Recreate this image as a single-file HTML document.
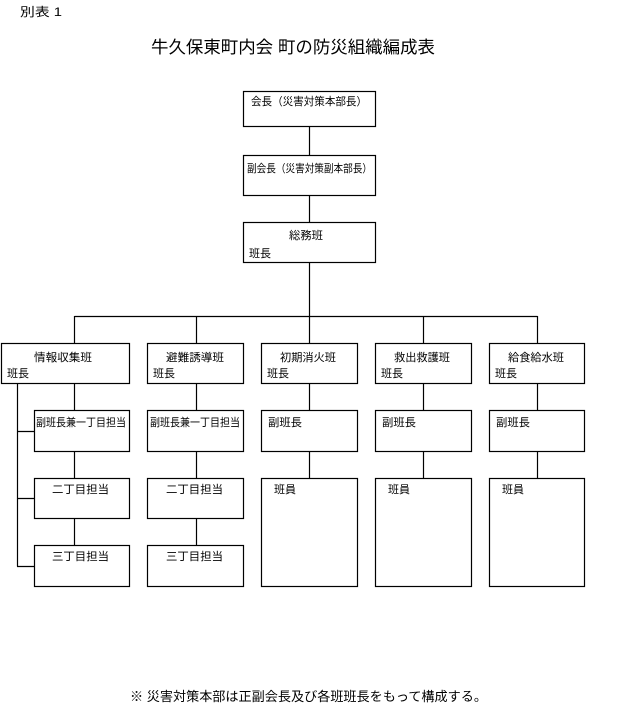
<!DOCTYPE html>
<html><head><meta charset="utf-8"><style>
body{margin:0;background:#fff}
svg text{font-family:"Liberation Sans","Noto Sans CJK JP",sans-serif;fill:#000}
</style></head><body>
<svg width="626" height="713" viewBox="0 0 626 713" xmlns="http://www.w3.org/2000/svg">
<g font-size="12">
<text x="20" y="16" textLength="42" lengthAdjust="spacingAndGlyphs">別表 1</text>
</g>
<text x="151" y="53" font-size="17" textLength="284" lengthAdjust="spacingAndGlyphs">牛久保東町内会 町の防災組織編成表</text>
<g fill="none" stroke="#000" stroke-width="1.2">
<rect x="243.5" y="91.5" width="132" height="35"/>
<rect x="243.5" y="155.5" width="132" height="40"/>
<rect x="243.5" y="222.5" width="132" height="40"/>
<line x1="309.5" y1="126" x2="309.5" y2="155"/>
<line x1="309.5" y1="196" x2="309.5" y2="222"/>
<line x1="309.5" y1="263" x2="309.5" y2="343"/>
<line x1="74.5" y1="316.5" x2="537.5" y2="316.5"/>
<line x1="74.5" y1="316" x2="74.5" y2="343"/>
<line x1="196.5" y1="316" x2="196.5" y2="343"/>
<line x1="423.5" y1="316" x2="423.5" y2="343"/>
<line x1="537.5" y1="316" x2="537.5" y2="343"/>
<!-- row boxes -->
<rect x="1.5" y="343.5" width="128" height="40"/>
<rect x="147.5" y="343.5" width="96" height="40"/>
<rect x="261.5" y="343.5" width="96" height="40"/>
<rect x="375.5" y="343.5" width="96" height="40"/>
<rect x="489.5" y="343.5" width="95" height="40"/>
<!-- sub boxes -->
<rect x="34.5" y="410.5" width="95" height="41"/>
<rect x="34.5" y="478.5" width="95" height="40"/>
<rect x="34.5" y="545.5" width="95" height="41"/>
<rect x="147.5" y="410.5" width="96" height="41"/>
<rect x="147.5" y="478.5" width="96" height="40"/>
<rect x="147.5" y="545.5" width="96" height="41"/>
<rect x="261.5" y="410.5" width="96" height="41"/>
<rect x="261.5" y="478.5" width="96" height="108"/>
<rect x="375.5" y="410.5" width="96" height="41"/>
<rect x="375.5" y="478.5" width="96" height="108"/>
<rect x="489.5" y="410.5" width="95" height="41"/>
<rect x="489.5" y="478.5" width="95" height="108"/>
<!-- vertical connectors -->
<line x1="74.5" y1="384" x2="74.5" y2="410"/>
<line x1="74.5" y1="452" x2="74.5" y2="478"/>
<line x1="74.5" y1="519" x2="74.5" y2="545"/>
<line x1="196.5" y1="384" x2="196.5" y2="410"/>
<line x1="196.5" y1="452" x2="196.5" y2="478"/>
<line x1="196.5" y1="519" x2="196.5" y2="545"/>
<line x1="309.5" y1="384" x2="309.5" y2="410"/>
<line x1="309.5" y1="452" x2="309.5" y2="478"/>
<line x1="423.5" y1="384" x2="423.5" y2="410"/>
<line x1="423.5" y1="452" x2="423.5" y2="478"/>
<line x1="537.5" y1="384" x2="537.5" y2="410"/>
<line x1="537.5" y1="452" x2="537.5" y2="478"/>
<!-- left bus -->
<line x1="17.5" y1="384" x2="17.5" y2="566.5"/>
<line x1="17" y1="431.5" x2="34" y2="431.5"/>
<line x1="17" y1="498.5" x2="34" y2="498.5"/>
<line x1="17" y1="566.5" x2="34" y2="566.5"/>
</g>
<g font-size="11">
<text x="251" y="105" textLength="116" lengthAdjust="spacingAndGlyphs">会長（災害対策本部長）</text>
<text x="247" y="172" textLength="125" lengthAdjust="spacingAndGlyphs">副会長（災害対策副本部長）</text>
<text x="289" y="239" textLength="34" lengthAdjust="spacingAndGlyphs">総務班</text>
<text x="249" y="257">班長</text>

<text x="34" y="361" textLength="58" lengthAdjust="spacingAndGlyphs">情報収集班</text>
<text x="7" y="377">班長</text>
<text x="166" y="361" textLength="58" lengthAdjust="spacingAndGlyphs">避難誘導班</text>
<text x="153" y="377">班長</text>
<text x="280" y="361" textLength="56" lengthAdjust="spacingAndGlyphs">初期消火班</text>
<text x="267" y="377">班長</text>
<text x="394" y="361" textLength="56" lengthAdjust="spacingAndGlyphs">救出救護班</text>
<text x="381" y="377">班長</text>
<text x="508" y="361" textLength="56" lengthAdjust="spacingAndGlyphs">給食給水班</text>
<text x="495" y="377">班長</text>

<text x="36" y="426" textLength="90" lengthAdjust="spacingAndGlyphs">副班長兼一丁目担当</text>
<text x="150" y="426" textLength="90" lengthAdjust="spacingAndGlyphs">副班長兼一丁目担当</text>
<text x="268" y="426" textLength="34" lengthAdjust="spacingAndGlyphs">副班長</text>
<text x="382" y="426" textLength="34" lengthAdjust="spacingAndGlyphs">副班長</text>
<text x="496" y="426" textLength="34" lengthAdjust="spacingAndGlyphs">副班長</text>

<text x="52" y="493" textLength="57" lengthAdjust="spacingAndGlyphs">二丁目担当</text>
<text x="166" y="493" textLength="57" lengthAdjust="spacingAndGlyphs">二丁目担当</text>
<text x="52" y="560" textLength="57" lengthAdjust="spacingAndGlyphs">三丁目担当</text>
<text x="166" y="560" textLength="57" lengthAdjust="spacingAndGlyphs">三丁目担当</text>
<text x="274" y="493" textLength="22" lengthAdjust="spacingAndGlyphs">班員</text>
<text x="388" y="493" textLength="22" lengthAdjust="spacingAndGlyphs">班員</text>
<text x="502" y="493" textLength="22" lengthAdjust="spacingAndGlyphs">班員</text>
</g>
<text x="130" y="701" font-size="13" textLength="357" lengthAdjust="spacingAndGlyphs">※ 災害対策本部は正副会長及び各班班長をもって構成する。</text>
</svg>
</body></html>
